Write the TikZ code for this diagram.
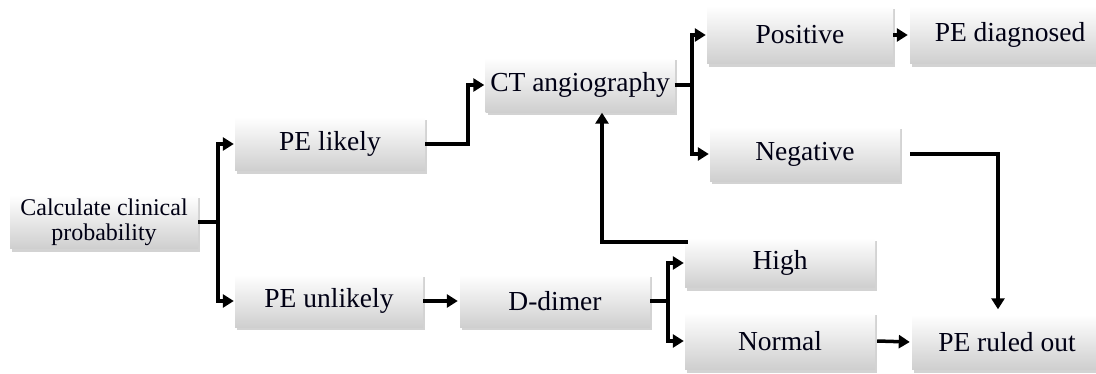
\documentclass[tikz,border=0pt]{standalone}
\usepackage{fontspec}
\setmainfont{Liberation Serif}
\usetikzlibrary{arrows.meta,shadows,calc}
\begin{document}
\begin{tikzpicture}[x=1pt,y=-1pt,
  box/.style={rectangle, inner sep=0pt, top color=white, bottom color=gray!38,
    drop shadow={shadow xshift=2pt, shadow yshift=-3pt, opacity=0.35, fill=gray},
    font=\fontsize{27.5}{30}\selectfont, text=black!92!blue, align=center},
  arr/.style={line width=3.5pt, -{Triangle[length=11pt,width=13pt]}},
  ln/.style={line width=3.5pt}]
\useasboundingbox (0,0) rectangle (1096,374);
\clip (0,0) rectangle (1096,374);
\node[box, minimum width=188pt, minimum height=54pt, font=\fontsize{24}{25}\selectfont] (calc) at (104,222) {Calculate clinical\\probability};
\node[box, minimum width=190pt, minimum height=54pt] (likely) at (330,144) {PE likely};
\node[box, minimum width=188pt, minimum height=53pt] (unlikely) at (329,301) {PE unlikely};
\node[box, minimum width=190pt, minimum height=53pt] (ddimer) at (555,301) {D-dimer};
\node[box, minimum width=189pt, minimum height=55pt] (ct) at (580,85) {CT angiography};
\node[box, minimum width=186pt, minimum height=58pt] (pos) at (800,35) {Positive};
\node[box, minimum width=200pt, minimum height=58pt] (diag) at (1010,35) {PE diagnosed};
\node[box, minimum width=190pt, minimum height=55pt] (neg) at (805,154) {Negative};
\node[box, minimum width=190pt, minimum height=50pt] (high) at (780,263) {High};
\node[box, minimum width=190pt, minimum height=57pt] (normal) at (780,341) {Normal};
\node[box, minimum width=190pt, minimum height=55pt] (ruled) at (1007,342) {PE ruled out};
\coordinate (j1) at (218,222);
\coordinate (j2) at (468,144);
\coordinate (j3) at (692,85);
\coordinate (j4) at (668,301);
\coordinate (j5) at (998,154);
\coordinate (j6) at (602,242);
\draw[arr] (calc.east) -- (j1) |- ([xshift=-1pt]likely.west);
\draw[arr] (j1) |- ([xshift=-1pt]unlikely.west);
\draw[arr] (likely.east) -- (j2) |- ([xshift=-1pt]ct.west);
\draw[arr] (ct.east) -- (j3) |- ([xshift=-1pt]pos.west);
\draw[arr] (j3) |- ([xshift=-1pt]neg.west);
\draw[arr] (pos.east) -- ([xshift=-2pt]diag.west);
\draw[arr] ([xshift=10pt]neg.east) -- (j5) -- (j5 |- ruled.north) [shorten >=5pt];
\draw[arr] (unlikely.east) -- ([xshift=-2pt]ddimer.west);
\draw[arr] (ddimer.east) -- (j4) |- ([xshift=-1pt]high.west);
\draw[arr] (j4) |- ([xshift=-1pt]normal.west);
\draw[arr] ([xshift=3pt]high.north west |- j6) -- (j6) -- (j6 |- ct.south);
\draw[arr] ([xshift=2pt]normal.east) -- ([xshift=-2pt]ruled.west);
\end{tikzpicture}
\end{document}
